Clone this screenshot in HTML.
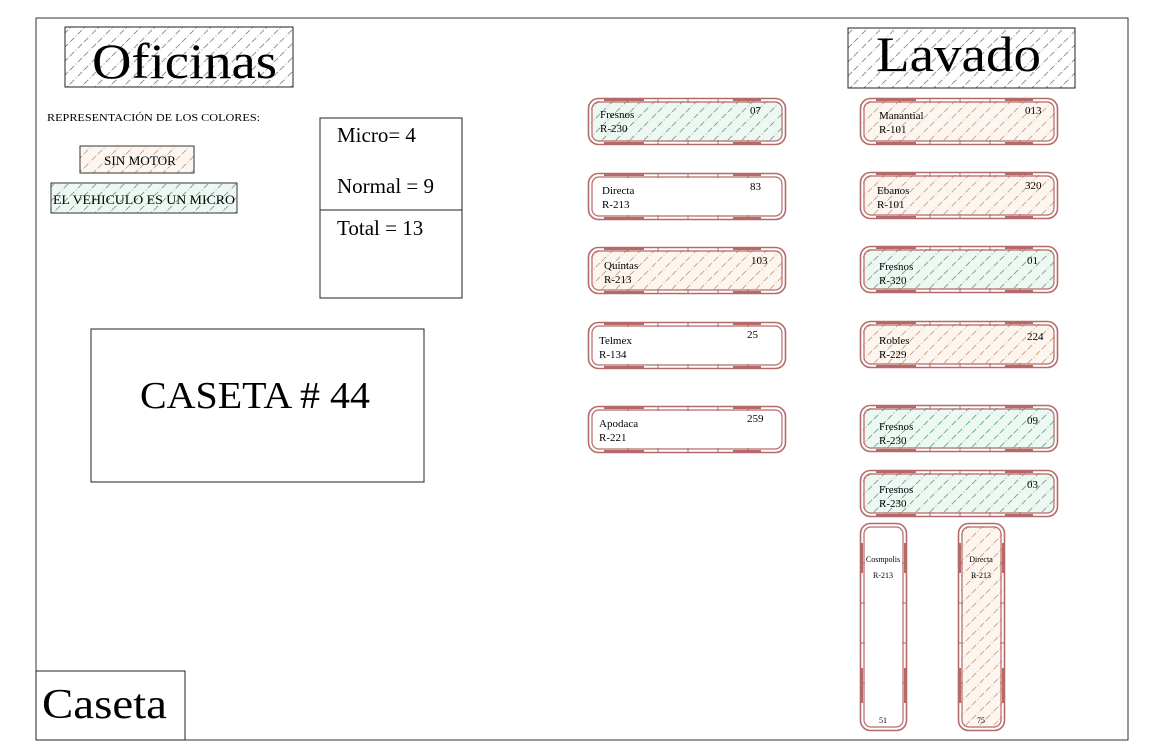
<!DOCTYPE html>
<html><head><meta charset="utf-8"><style>
html,body{margin:0;padding:0;background:#fff;}
svg{display:block;font-family:"Liberation Serif",serif;}
</style></head><body>
<svg width="1164" height="745" viewBox="0 0 1164 745" xmlns="http://www.w3.org/2000/svg">
<defs>
<pattern id="hg" patternUnits="userSpaceOnUse" width="14" height="14">
<path d="M0 14 L14 0" stroke="#888" stroke-width="0.9" stroke-dasharray="6 2 1 2"/>
</pattern>
<pattern id="ho" patternUnits="userSpaceOnUse" width="14" height="14">
<rect width="14" height="14" fill="#fdf6f0"/>
<path d="M0 14 L14 0" stroke="#c9a080" stroke-width="0.9" stroke-dasharray="6 2 1 2"/>
</pattern>
<pattern id="hgr" patternUnits="userSpaceOnUse" width="14" height="14">
<rect width="14" height="14" fill="#eef8f3"/>
<path d="M0 14 L14 0" stroke="#6aa588" stroke-width="0.9" stroke-dasharray="6 2 1 2"/>
</pattern>
<g id="bus">
<rect x="0.5" y="0.5" width="197" height="46" rx="10" fill="none" stroke="#b56a6a" stroke-width="1.6"/>
<rect x="4" y="4" width="190" height="39" rx="7" fill="none" stroke="#b56a6a" stroke-width="1.2"/>
<path d="M40 1 v4 M70 1 v4 M100 1 v4 M130 1 v4 M160 1 v4 M40 42 v4 M70 42 v4 M100 42 v4 M130 42 v4 M160 42 v4" stroke="#b56a6a" stroke-width="1"/>
<path d="M16 2 h40 M145 2 h28 M16 45 h40 M145 45 h28" stroke="#b56a6a" stroke-width="2"/>
</g>
<g id="vbus">
<rect x="0.5" y="0.5" width="46" height="207" rx="10" fill="none" stroke="#b56a6a" stroke-width="1.6"/>
<rect x="4" y="4" width="39" height="200" rx="7" fill="none" stroke="#b56a6a" stroke-width="1.2"/>
<path d="M1 40 h4 M1 80 h4 M1 120 h4 M1 160 h4 M42 40 h4 M42 80 h4 M42 120 h4 M42 160 h4" stroke="#b56a6a" stroke-width="1"/>
<path d="M2 20 v30 M2 145 v35 M45 20 v30 M45 145 v35" stroke="#b56a6a" stroke-width="2"/>
</g>
</defs>
<rect x="36" y="18" width="1092" height="722" fill="none" stroke="#333" stroke-width="1"/>
<rect x="65" y="27" width="228" height="60" fill="url(#hg)" stroke="#222"/>
<text x="92" y="78" font-size="50" textLength="185" lengthAdjust="spacingAndGlyphs">Oficinas</text>
<rect x="848" y="28" width="227" height="60" fill="url(#hg)" stroke="#222"/>
<text x="876" y="71" font-size="50" textLength="165" lengthAdjust="spacingAndGlyphs">Lavado</text>
<text x="47" y="121" font-size="11" textLength="213" lengthAdjust="spacingAndGlyphs">REPRESENTACIÓN DE LOS COLORES:</text>
<rect x="80" y="146" width="114" height="27" fill="url(#ho)" stroke="#333"/>
<text x="104" y="165" font-size="13" textLength="72" lengthAdjust="spacingAndGlyphs">SIN MOTOR</text>
<rect x="51" y="183" width="186" height="30" fill="url(#hgr)" stroke="#333"/>
<text x="53" y="204" font-size="13" textLength="182" lengthAdjust="spacingAndGlyphs">EL VEHICULO ES UN MICRO</text>
<rect x="320" y="118" width="142" height="180" fill="none" stroke="#222"/>
<line x1="320" y1="210" x2="462" y2="210" stroke="#222"/>
<text x="337" y="142" font-size="21">Micro= 4</text>
<text x="337" y="193" font-size="21">Normal = 9</text>
<text x="337" y="235" font-size="21">Total = 13</text>
<rect x="91" y="329" width="333" height="153" fill="none" stroke="#222"/>
<text x="140" y="408" font-size="38" textLength="230" lengthAdjust="spacingAndGlyphs">CASETA # 44</text>
<rect x="36" y="671" width="149" height="69" fill="none" stroke="#222"/>
<text x="42" y="718" font-size="42" textLength="125" lengthAdjust="spacingAndGlyphs">Caseta</text>
<g font-size="11">
<g transform="translate(588,98)"><rect x="3" y="3" width="192" height="41" rx="8" fill="url(#hgr)"/><use href="#bus"/><text x="12" y="20">Fresnos</text><text x="12" y="34">R-230</text><text x="162" y="16">07</text></g>
<g transform="translate(588,173)"><use href="#bus"/><text x="14" y="21">Directa</text><text x="14" y="35">R-213</text><text x="162" y="17">83</text></g>
<g transform="translate(588,247)"><rect x="3" y="3" width="192" height="41" rx="8" fill="url(#ho)"/><use href="#bus"/><text x="16" y="22">Quintas</text><text x="16" y="36">R-213</text><text x="163" y="17">103</text></g>
<g transform="translate(588,322)"><use href="#bus"/><text x="11" y="22">Telmex</text><text x="11" y="36">R-134</text><text x="159" y="16">25</text></g>
<g transform="translate(588,406)"><use href="#bus"/><text x="11" y="21">Apodaca</text><text x="11" y="35">R-221</text><text x="159" y="16">259</text></g>
<g transform="translate(860,98)"><rect x="3" y="3" width="192" height="41" rx="8" fill="url(#ho)"/><use href="#bus"/><text x="19" y="21">Manantial</text><text x="19" y="35">R-101</text><text x="165" y="16">013</text></g>
<g transform="translate(860,172)"><rect x="3" y="3" width="192" height="41" rx="8" fill="url(#ho)"/><use href="#bus"/><text x="17" y="22">Ebanos</text><text x="17" y="36">R-101</text><text x="165" y="17">320</text></g>
<g transform="translate(860,246)"><rect x="3" y="3" width="192" height="41" rx="8" fill="url(#hgr)"/><use href="#bus"/><text x="19" y="24">Fresnos</text><text x="19" y="38">R-320</text><text x="167" y="18">01</text></g>
<g transform="translate(860,321)"><rect x="3" y="3" width="192" height="41" rx="8" fill="url(#ho)"/><use href="#bus"/><text x="19" y="23">Robles</text><text x="19" y="37">R-229</text><text x="167" y="19">224</text></g>
<g transform="translate(860,405)"><rect x="3" y="3" width="192" height="41" rx="8" fill="url(#hgr)"/><use href="#bus"/><text x="19" y="25">Fresnos</text><text x="19" y="39">R-230</text><text x="167" y="19">09</text></g>
<g transform="translate(860,470)"><rect x="3" y="3" width="192" height="41" rx="8" fill="url(#hgr)"/><use href="#bus"/><text x="19" y="23">Fresnos</text><text x="19" y="37">R-230</text><text x="167" y="18">03</text></g>
<g transform="translate(860,523)" font-size="8"><use href="#vbus"/><text x="23" y="39" text-anchor="middle">Cosmpolis</text><text x="23" y="55" text-anchor="middle">R-213</text><text x="23" y="200" text-anchor="middle">51</text></g>
<g transform="translate(958,523)" font-size="8"><rect x="3" y="3" width="41" height="202" rx="8" fill="url(#ho)"/><use href="#vbus"/><text x="23" y="39" text-anchor="middle">Directa</text><text x="23" y="55" text-anchor="middle">R-213</text><text x="23" y="200" text-anchor="middle">75</text></g>
</g>
</svg>
</body></html>
